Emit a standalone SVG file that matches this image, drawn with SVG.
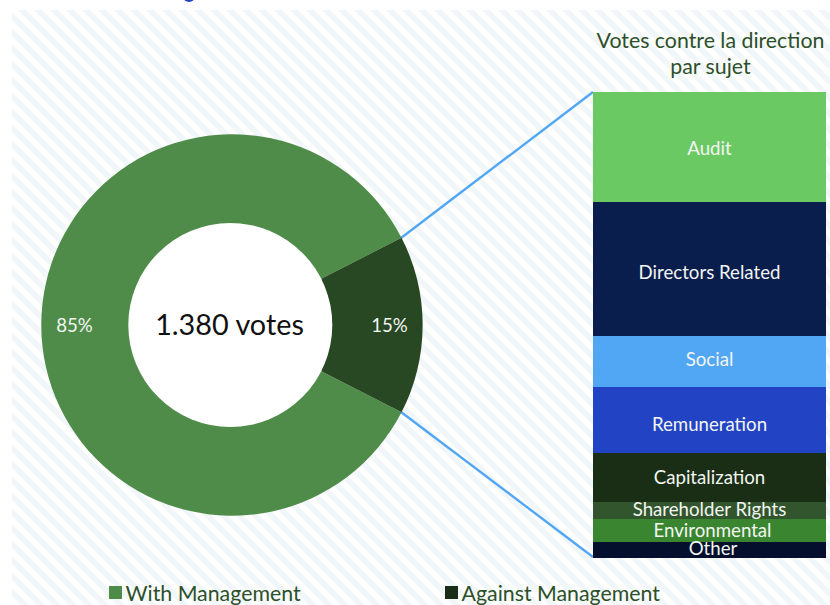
<svg xmlns="http://www.w3.org/2000/svg" width="830" height="605" viewBox="0 0 830 605">
<style>
text{font-family:Lato,"Open Sans","Liberation Sans",sans-serif}
.b{font-size:18.67px;fill:#f2f5f2;text-anchor:middle}
.p{font-size:18.67px;fill:#f2f5f2;text-anchor:middle}
.t{font-size:21.33px;fill:#2c5028;text-anchor:middle}
.l{font-size:21.33px;fill:#2c5028}
.c{fill:none;stroke:#52a7f5;stroke-width:2.4}
</style>
<defs>
<pattern id="h" width="11.31" height="11.31" patternUnits="userSpaceOnUse" patternTransform="rotate(45)">
<rect width="11.31" height="11.31" fill="#fff"/>
<rect width="11.31" height="5.66" fill="#f1f7f9"/>
</pattern>
</defs>
<rect width="830" height="605" fill="#fff"/>
<rect x="12" y="10" width="818" height="595" fill="url(#h)"/>
<circle cx="189" cy="-4" r="6" fill="#2244c4"/>
<g id="connectors">
<line class="c" x1="401" y1="238" x2="593" y2="92"/>
<line class="c" x1="401" y1="412" x2="593" y2="557"/>
</g>
<g id="donut">
<path id="with" d="M401.500 237.700A190.700 190.700 0 1 0 401.500 412.300L321.800 371.500L232 325L321.800 278.500Z" fill="#4f8c49"/>
<path id="against" d="M401.500 237.700A190.700 190.700 0 0 1 401.500 412.300L321.800 371.500L300 325L321.800 278.500Z" fill="#284723"/>
<circle cx="230.300" cy="325" r="102" fill="#fff"/>
<text class="p" x="74.500" y="332">85%</text>
<text class="p" x="389.500" y="332">15%</text>
<text x="229.500" y="335" font-size="28.8" fill="#111" text-anchor="middle">1.380 votes</text>
</g>
<g id="title"><text class="t" x="710.500" y="48">Votes contre la direction</text><text class="t" x="710.500" y="74">par sujet</text></g>
<g id="audit"><rect x="593" y="92" width="233" height="110" fill="#6bc963"/><text class="b" x="709.500" y="155">Audit</text></g>
<g id="directors"><rect x="593" y="202" width="233" height="134" fill="#0a1e4d"/><text class="b" x="709.500" y="279">Directors Related</text></g>
<g id="social"><rect x="593" y="336" width="233" height="51" fill="#52a7f5"/><text class="b" x="709.500" y="366">Social</text></g>
<g id="remuneration"><rect x="593" y="387" width="233" height="66" fill="#2244c4"/><text class="b" x="709.500" y="431">Remuneration</text></g>
<g id="capitalization"><rect x="593" y="453" width="233" height="49" fill="#1a2e16"/><text class="b" x="709.500" y="484">Capitalization</text></g>
<g id="shareholder"><rect x="593" y="502" width="233" height="17" fill="#33552d"/><text class="b" x="709.500" y="516">Shareholder Rights</text></g>
<g id="environmental"><rect x="593" y="519" width="233" height="23" fill="#3a8530"/><text class="b" x="712.500" y="537">Environmental</text></g>
<g id="other"><rect x="593" y="542" width="233" height="16" fill="#030f2d"/><text class="b" x="713" y="555">Other</text></g>
<g id="legend-with"><rect x="109" y="586" width="13" height="13" fill="#4f8c49"/><text class="l" x="125.500" y="601">With Management</text></g>
<g id="legend-against"><rect x="445" y="586" width="13" height="13" fill="#1a2e16"/><text class="l" x="461.500" y="601">Against Management</text></g>
</svg>
